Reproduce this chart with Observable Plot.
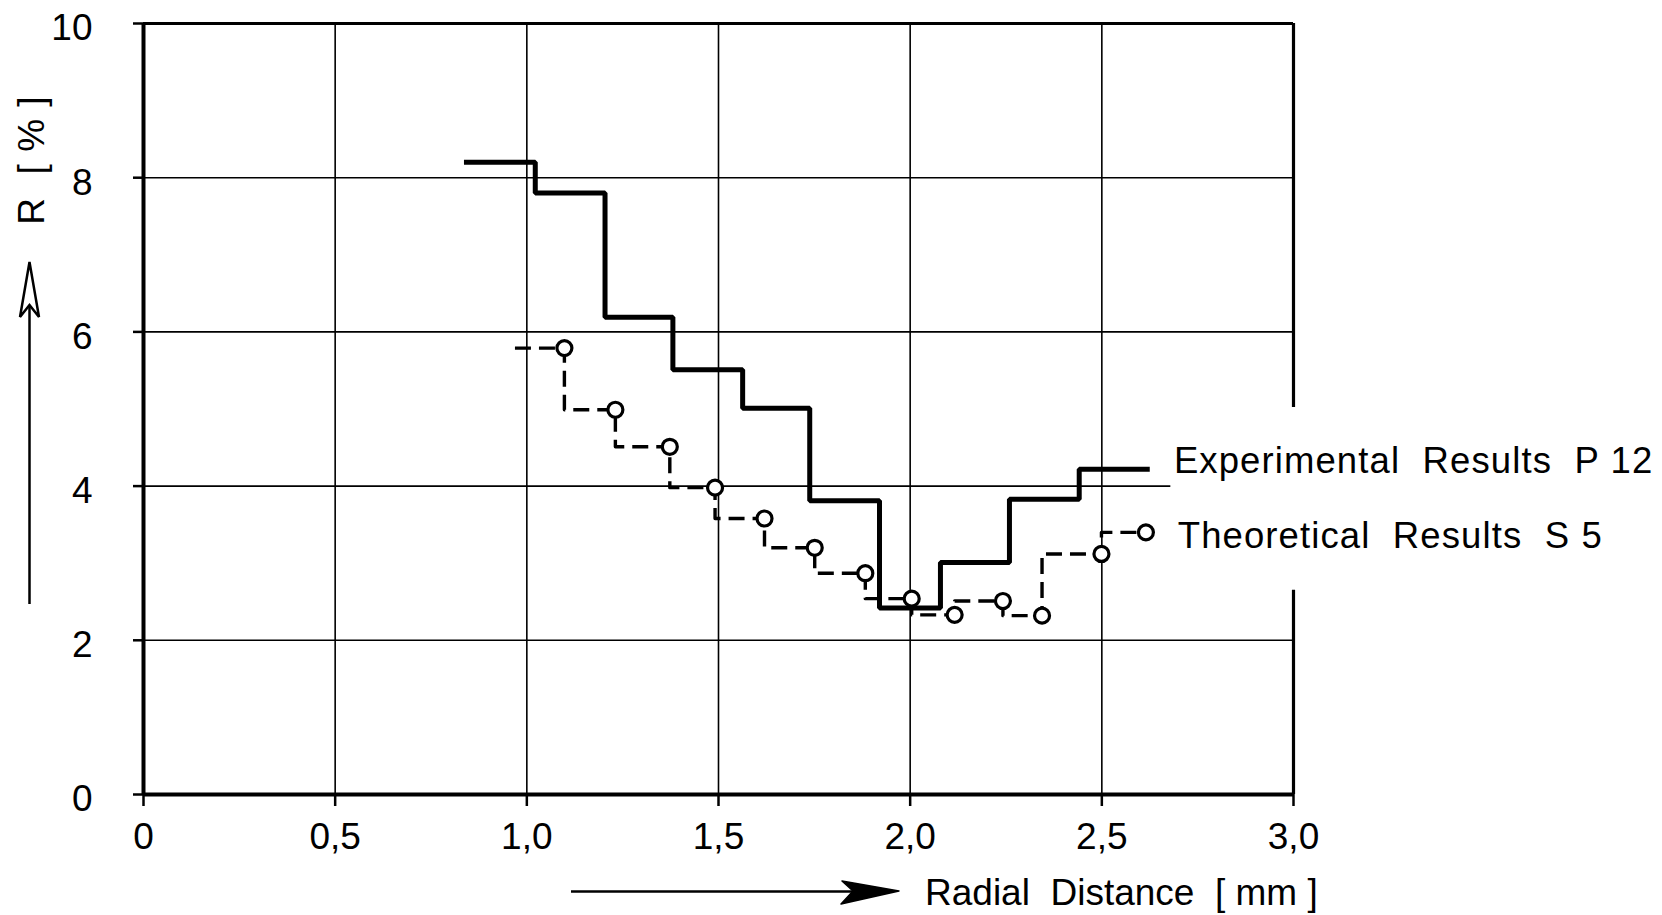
<!DOCTYPE html>
<html>
<head>
<meta charset="utf-8">
<script src="https://cdn.jsdelivr.net/npm/d3@7"></script>
<script src="https://cdn.jsdelivr.net/npm/@observablehq/plot@0.6"></script>
<style>
  html, body { margin: 0; padding: 0; background: #fff; }
  svg { display: block; }
</style>
</head>
<body>
<script>
// ---- tick labels ----
const xTicks = [0, 0.5, 1.0, 1.5, 2.0, 2.5, 3.0];
const xTickLabels = ["0", "0,5", "1,0", "1,5", "2,0", "2,5", "3,0"];
const yTicks = [0, 2, 4, 6, 8, 10];
const yTickLabels = ["0", "2", "4", "6", "8", "10"];
const xGrid = [0.5, 1.0, 1.5, 2.0, 2.5];
const yGrid = [2, 6, 8];

// ---- Experimental Results P 12 (solid step line) ----
const expEdges  = [0.836, 1.022, 1.204, 1.381, 1.563, 1.738, 1.920, 2.079, 2.259, 2.441, 2.625];
const expValues = [8.20, 7.80, 6.19, 5.51, 5.01, 3.81, 2.42, 3.01, 3.83, 4.22];

// ---- Theoretical Results S 5 (dashed step line with circles) ----
const thStart = 0.969;
const thX = [1.098, 1.231, 1.373, 1.491, 1.620, 1.751, 1.883, 2.004, 2.116, 2.242, 2.344, 2.499, 2.615];
const thR = [5.79, 4.99, 4.51, 3.98, 3.58, 3.20, 2.87, 2.54, 2.33, 2.51, 2.32, 3.12, 3.40];

// ---- labels ----
const seriesNames = ["Experimental  Results  P 12", "Theoretical  Results  S 5"];
const legendX = [2.688, 2.698];
const legendY = [4.32, 3.35];
const xTitle = "Radial  Distance  [ mm ]";
const yTitle = "R  [ % ]";

// build tables
const expPoints = expValues.map((v, i) => ({x: expEdges[i], y: v}));
expPoints.push({x: expEdges[expEdges.length - 1], y: expValues[expValues.length - 1]});
const thPoints = [{x: thStart, y: thR[0]}, ...thX.map((x, i) => ({x, y: thR[i]}))];
const thDots = thX.map((x, i) => ({x, y: thR[i]}));
const legend = seriesNames.map((t, i) => ({x: legendX[i], y: legendY[i], text: t}));
const xLabelMap = new Map(xTicks.map((t, i) => [t, xTickLabels[i]]));
const yLabelMap = new Map(yTicks.map((t, i) => [t, yTickLabels[i]]));

const FONT = "'Liberation Sans', Arial, sans-serif";

const plot = Plot.plot({
  width: 1662,
  height: 915,
  marginLeft: 143,
  marginRight: 369,
  marginTop: 23,
  marginBottom: 121,
  style: {fontFamily: FONT, fontSize: "37px", background: "#fff", color: "#000", whiteSpace: "pre"},
  x: {domain: [0, 3]},
  y: {domain: [0, 10]},
  marks: [
    // grid
    Plot.ruleX(xGrid, {y1: 0, y2: 10, stroke: "#000", strokeWidth: 1.6}),
    Plot.ruleY(yGrid, {x1: 0, x2: 3, stroke: "#000", strokeWidth: 1.6}),
    Plot.ruleY([4], {x1: 0, x2: 2.68, stroke: "#000", strokeWidth: 1.6}),
    // frame
    Plot.ruleY([10], {x1: 0, x2: 3, stroke: "#000", strokeWidth: 3.2}),
    Plot.ruleY([0], {x1: 0, x2: 3, stroke: "#000", strokeWidth: 4}),
    Plot.ruleX([0], {y1: 0, y2: 10, stroke: "#000", strokeWidth: 4}),
    Plot.ruleX([3], {y1: 10, y2: 5.02, stroke: "#000", strokeWidth: 3.2}),
    Plot.ruleX([3], {y1: 2.65, y2: 0, stroke: "#000", strokeWidth: 3.2}),
    // axes
    Plot.axisX({ticks: xTicks, tickSize: 12, tickPadding: 16, tickFormat: d => xLabelMap.get(d),
                fontSize: 37, stroke: "#000", strokeWidth: 2.5, label: null}),
    Plot.axisY({ticks: yTicks, tickSize: 10, tickFormat: () => "", stroke: "#000", strokeWidth: 2.5, label: null}),
    Plot.axisY({ticks: yTicks, tickSize: 0, tickPadding: 51, tickFormat: d => yLabelMap.get(d),
                fontSize: 37, dy: 5, label: null}),
    // data
    Plot.line(expPoints, {x: "x", y: "y", curve: "step-after", stroke: "#000", strokeWidth: 5,
                          strokeLinejoin: "miter", strokeLinecap: "butt"}),
    Plot.line(thPoints, {x: "x", y: "y", curve: "step-before", stroke: "#000", strokeWidth: 3.4,
                         strokeDasharray: "16,8", strokeLinecap: "butt"}),
    Plot.dot(thDots, {x: "x", y: "y", r: 7.5, fill: "#fff", stroke: "#000", strokeWidth: 3.2}),
    Plot.text(legend, {x: "x", y: "y", text: "text", textAnchor: "start", fontSize: 36.5,
                       fill: "#000", stroke: null, style: "letter-spacing:1px"})
  ]
});

document.body.appendChild(plot);

// legend letter spacing
d3.select(plot).selectAll("text").filter(function() {
  return seriesNames.includes(this.textContent);
}).attr("letter-spacing", 1.1);

// ---- axis titles with arrows ----
const svg = d3.select(plot);
const g = svg.append("g").attr("fill", "#000").attr("font-family", FONT);

// x title and arrow
g.append("text").attr("x", 925).attr("y", 905).attr("font-size", 37)
  .attr("text-anchor", "start").style("white-space", "pre").text(xTitle);
g.append("line").attr("x1", 571).attr("x2", 860).attr("y1", 891.5).attr("y2", 891.5)
  .attr("stroke", "#000").attr("stroke-width", 2.5);
g.append("path").attr("d", "M899,891 L842,881 L853,891 L841,904 Z")
  .attr("fill", "#000").attr("stroke", "#000").attr("stroke-width", 1.5).attr("stroke-linejoin", "round");

// y title and arrow
g.append("text").attr("transform", "translate(44,160) rotate(-90)")
  .attr("text-anchor", "middle").attr("font-size", 37).attr("letter-spacing", 1)
  .style("white-space", "pre").text(yTitle);
g.append("line").attr("x1", 29.5).attr("x2", 29.5).attr("y1", 604).attr("y2", 300)
  .attr("stroke", "#000").attr("stroke-width", 2.5);
g.append("path").attr("d", "M29.5,262 L20,317 L29.5,305 L39,317 Z")
  .attr("fill", "#fff").attr("stroke", "#000").attr("stroke-width", 2.5).attr("stroke-linejoin", "miter");
</script>
</body>
</html>
